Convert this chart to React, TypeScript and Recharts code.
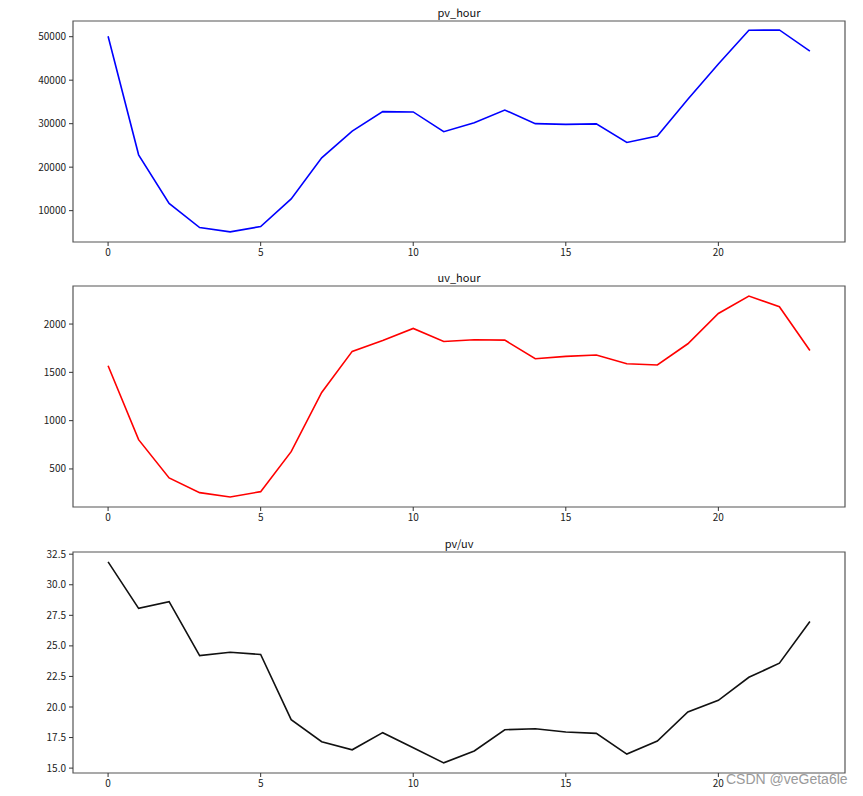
import { LineChart, Line, XAxis, YAxis, ReferenceArea } from 'recharts'

const hours = [0, 1, 2, 3, 4, 5, 6, 7, 8, 9, 10, 11, 12, 13, 14, 15, 16, 17, 18, 19, 20, 21, 22, 23]
const pvHour = [50100, 22840, 11660, 6120, 5130, 6350, 12700, 22150, 28300, 32770, 32700, 28150, 30230, 33140, 30000, 29840, 29950, 25680, 27140, 35610, 43700, 51480, 51550, 46700]
const uvHour = [1569, 803, 407, 255, 210, 265, 679, 1292, 1717, 1830, 1955, 1820, 1838, 1834, 1641, 1665, 1679, 1589, 1576, 1796, 2110, 2290, 2179, 1727]
const pvPerUv = [31.87, 28.07, 28.62, 24.21, 24.48, 24.3, 18.96, 17.16, 16.5, 17.9, 16.66, 15.43, 16.4, 18.14, 18.22, 17.95, 17.84, 16.15, 17.21, 19.59, 20.55, 22.43, 23.58, 27.0]

const xTicks = [0, 5, 10, 15, 20]
const pvTicks = [10000, 20000, 30000, 40000, 50000]
const uvTicks = [500, 1000, 1500, 2000]
const ratioTicks = [15, 17.5, 20, 22.5, 25, 27.5, 30, 32.5]

const rows = hours.map((h, i) => ({ hour: h, pv: pvHour[i], uv: uvHour[i], ratio: pvPerUv[i] }))

const X_DOMAIN: [number, number] = [-1.15, 24.15]
const FONT = '"Noto Sans CJK SC", "DejaVu Sans", sans-serif'
const tickStyle = { fontSize: 10, fill: '#222', fontFamily: FONT }

type PanelProps = {
  top: number
  title: string
  dataKey: string
  color: string
  domain: [number, number]
  ticks: number[]
  fmt?: (v: number) => string
}

function Panel({ top, title, dataKey, color, domain, ticks, fmt }: PanelProps) {
  return (
    <div style={{ position: 'absolute', left: 0, top, width: 863, height: 266 }}>
      <div
        style={{
          position: 'absolute',
          left: 73,
          width: 772,
          top: 5,
          textAlign: 'center',
          fontSize: 11,
          lineHeight: '14px',
          color: '#111',
        }}
      >
        {title}
      </div>
      <LineChart width={863} height={266} data={rows} margin={{ top: 21, right: 18, bottom: 0, left: 0 }}>
        <XAxis
          dataKey="hour"
          type="number"
          domain={X_DOMAIN}
          ticks={xTicks}
          allowDataOverflow
          axisLine={false}
          tickLine={{ stroke: '#333' }}
          tickSize={4}
          tickMargin={3}
          height={24}
          tick={tickStyle}
        />
        <YAxis
          type="number"
          domain={domain}
          ticks={ticks}
          allowDataOverflow
          axisLine={false}
          tickLine={{ stroke: '#333' }}
          tickSize={4}
          tickMargin={3}
          width={73}
          tick={tickStyle}
          tickFormatter={fmt}
        />
        <ReferenceArea
          x1={X_DOMAIN[0]}
          x2={X_DOMAIN[1]}
          y1={domain[0]}
          y2={domain[1]}
          fill="none"
          fillOpacity={0}
          stroke="#555"
          strokeWidth={1.2}
          ifOverflow="visible"
        />
        <Line
          type="linear"
          dataKey={dataKey}
          stroke={color}
          strokeWidth={1.6}
          dot={false}
          isAnimationActive={false}
        />
      </LineChart>
    </div>
  )
}

export default function App() {
  return (
    <div style={{ position: 'absolute', left: 0, top: 0, width: 863, height: 796, background: '#fff', fontFamily: FONT }}>
      <Panel top={0} title="pv_hour" dataKey="pv" color="#0000ff" domain={[2790, 53610]} ticks={pvTicks} />
      <Panel top={265} title="uv_hour" dataKey="uv" color="#ff0000" domain={[106, 2394]} ticks={uvTicks} />
      <Panel
        top={531}
        title="pv/uv"
        dataKey="ratio"
        color="#111111"
        domain={[14.6, 32.68]}
        ticks={ratioTicks}
        fmt={(v: number) => v.toFixed(1)}
      />
      <div
        style={{
          position: 'absolute',
          left: 726,
          top: 771,
          fontSize: 14,
          color: '#9a9a9a',
          fontFamily: '"Liberation Sans", Arial, sans-serif',
          whiteSpace: 'nowrap',
        }}
      >
        CSDN @veGeta6le
      </div>
    </div>
  )
}
